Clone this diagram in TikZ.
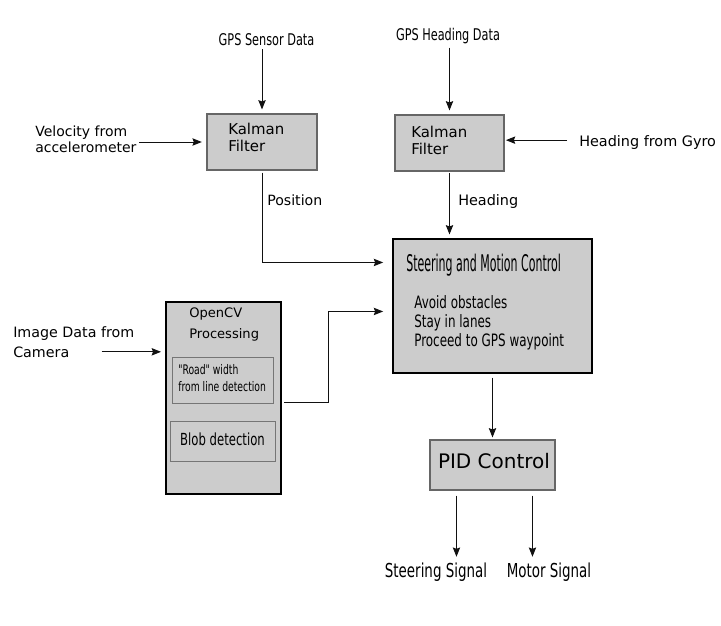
\documentclass[tikz,border=0pt]{standalone}
\usepackage{fontspec}
\setmainfont{DejaVu Sans}
\newfontfamily\cnd[FakeStretch=0.7]{DejaVu Sans}
\newfontfamily\cndt[FakeStretch=0.48]{DejaVu Sans}
\usetikzlibrary{arrows.meta,fit,calc}
\definecolor{boxfill}{HTML}{CCCCCC}
\definecolor{boxline}{HTML}{666666}
\definecolor{lncol}{HTML}{111111}
\newcommand\myfs[1]{\fontsize{#1}{#1}\selectfont}
\begin{document}
\begin{tikzpicture}[x=0.75pt,y=-0.75pt,
  box/.style={draw=boxline, fill=boxfill, line width=0.8pt, inner sep=0pt},
  bbox/.style={draw=black, fill=boxfill, line width=0.8pt, inner sep=0pt},
  tbox/.style={draw=black, fill=boxfill, line width=1.5pt, inner sep=0pt},
  ibox/.style={draw=boxline!90, fill=boxfill, line width=0.7pt, inner sep=0pt},
  t/.style={inner sep=0pt, anchor=base west, text=black},
  tc/.style={inner sep=0pt, anchor=base, text=black},
  arr/.style={draw=lncol, line width=0.75pt, -{Stealth[length=7pt,width=5.5pt,inset=1pt]}},
  ln/.style={draw=lncol, line width=0.75pt}]
\useasboundingbox[fill=white] (0,0) rectangle (721,625);

% ---------- labels at top ----------
\node[tc, font=\myfs{12.1}\cnd] (gps1) at (266.5,45) {GPS Sensor Data};
\node[tc, font=\myfs{12.1}\cnd] (gps2) at (448,40) {GPS Heading Data};

% ---------- Kalman filter 1 ----------
\node[box, fit={(207,114) (317,170)}] (k1) {};
\node[t, font=\myfs{11.2}] (k1a) at (228,134) {Kalman};
\node[t, font=\myfs{11.2}] (k1b) at (228,151) {Filter};
\node[t, font=\myfs{10.5}] (vela) at (35,136) {Velocity from};
\node[t, font=\myfs{10.5}] (velb) at (35,152) {accelerometer};

% ---------- Kalman filter 2 ----------
\node[box, fit={(395,115) (504,171)}] (k2) {};
\node[t, font=\myfs{11.2}] (k2a) at (411,137) {Kalman};
\node[t, font=\myfs{11.2}] (k2b) at (411,154) {Filter};
\node[t, font=\myfs{10.8}] (gyro) at (579,146) {Heading from Gyro};

% ---------- Steering and motion control ----------
\node[bbox, fit={(393,239) (592,373)}] (st) {};
\node[t, font=\myfs{17.2}\cndt] (stt) at (406,271.5) {Steering and Motion Control};
\node[t, font=\myfs{12.8}\cnd] (st1) at (414,308) {Avoid obstacles};
\node[t, font=\myfs{12.8}\cnd] (st2) at (414,327) {Stay in lanes};
\node[t, font=\myfs{12.8}\cnd] (st3) at (414,346.5) {Proceed to GPS waypoint};

\node[t, font=\myfs{10.6}] (pos) at (267,205) {Position};
\node[t, font=\myfs{10.8}] (hdg) at (458,205) {Heading};

% ---------- OpenCV ----------
\node[tbox, fit={(166,302) (281,494)}] (cv) {};
\node[t, font=\myfs{9.8}] (cva) at (189,317) {OpenCV};
\node[t, font=\myfs{9.8}] (cvb) at (189,338) {Processing};
\node[ibox, fit={(172,357) (273,403)}] (rd) {};
\node[t, font=\myfs{9.9}\cnd] (rda) at (178,374.5) {"Road" width};
\node[t, font=\myfs{9.9}\cnd] (rdb) at (178,391.5) {from line detection};
\node[ibox, fit={(170,421) (275,461)}] (bl) {};
\node[tc, font=\myfs{12.5}\cnd] (blt) at (222.5,445.5) {Blob detection};
\node[t, font=\myfs{10.7}] (imga) at (13,337) {Image Data from};
\node[t, font=\myfs{10.7}] (imgb) at (13,357) {Camera};

% ---------- PID ----------
\node[box, fit={(430,440) (555,490)}] (pid) {};
\node[tc, font=\myfs{15}] (pidt) at (494,468) {PID Control};
\node[tc, font=\myfs{14.4}\cnd] (sig1) at (436,577) {Steering Signal};
\node[tc, font=\myfs{14.4}\cnd] (sig2) at (549,577) {Motor Signal};

% ---------- ports ----------
\coordinate (stinA) at ($(st.north west)+(0,24)$);
\coordinate (stinB) at ($(st.north west)+(0,73)$);
\coordinate (k2in) at ($(k2.north east)!0.45!(k2.south east)$);
\coordinate (cvout) at ($(cv.east)+(2,4)$);
\coordinate (pa) at ($(pid.south west)+(27,0)$);
\coordinate (pb) at ($(pid.south west)+(103,0)$);

% ---------- connectors ----------
\draw[arr, shorten <=3pt, shorten >=3pt] (gps1.south -| k1.north) -- (k1.north);
\draw[arr, shorten <=2pt, shorten >=3.5pt] (velb.east |- k1.west) -- (k1.west);
\draw[arr, shorten <=1.5pt, shorten >=7pt] (k1.south) |- (stinA);
\draw[arr, shorten <=3pt, shorten >=3pt] (gps2.south -| k2.north) -- (k2.north);
\draw[arr, shorten <=9pt, shorten >=1pt] (gyro.west |- k2in) -- (k2in);
\draw[arr, shorten <=1pt, shorten >=3pt] (k2.south) -- (k2.south |- st.north);
\draw[arr, shorten <=24pt, shorten >=3pt] (imgb.east) -- (imgb.east -| cv.west);
\draw[arr, shorten >=7pt] (cvout) -- ++(44,0) |- (stinB);
\draw[arr, shorten <=3pt, shorten >=1.5pt] (st.south) -- (pid.north);
\draw[arr, shorten <=3.75pt, shorten >=4pt] (pa) -- (pa |- sig1.north);
\draw[arr, shorten <=3.75pt, shorten >=4pt] (pb) -- (pb |- sig2.north);
\end{tikzpicture}
\end{document}
